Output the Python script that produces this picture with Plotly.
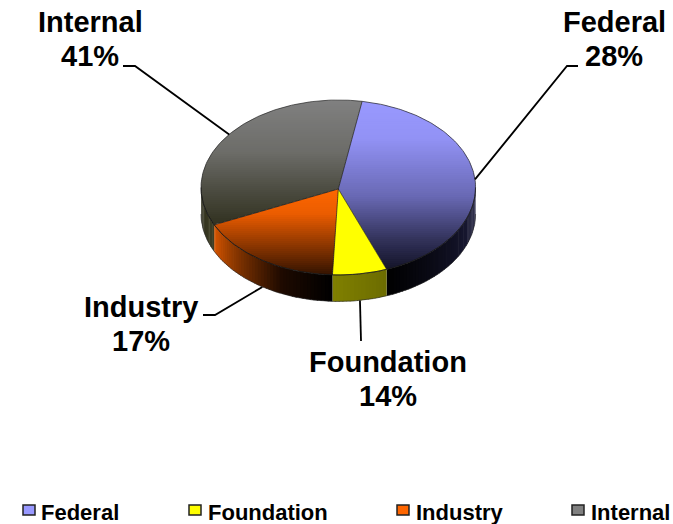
import math
import plotly.graph_objects as go

# Data
categories = ["Federal", "Foundation", "Industry", "Internal"]
drawn_share = [41.5, 6.4, 17.3, 34.8]      # share of the pie as drawn
label_percent = [28, 14, 17, 41]           # percentages as printed on the labels
legend_colors = ["#9999FF", "#FFFF00", "#FF6600", "#808080"]

# Style: gradient stops for the top face (fraction of pie height, colour) and side face
top_stops = [
    [(0.0, (153, 153, 255)), (0.22, (146, 146, 245)), (0.55, (105, 105, 180)), (0.80, (50, 50, 90)), (1.0, (14, 14, 30))],
    [(0.0, (255, 255, 0)), (1.0, (255, 255, 0))],
    [(0.5, (255, 104, 0)), (0.65, (235, 92, 0)), (0.85, (130, 50, 0)), (1.0, (50, 18, 0))],
    [(0.0, (128, 128, 128)), (0.30, (108, 108, 104)), (0.52, (75, 75, 64)), (0.72, (48, 48, 30))],
]
side_stops = [
    [(0.0, (34, 34, 70)), (0.5, (16, 16, 34)), (1.0, (0, 0, 0))],
    [(0.0, (108, 108, 0)), (1.0, (128, 128, 0))],
    [(0.0, (0, 0, 0)), (0.35, (30, 10, 0)), (0.7, (125, 50, 0)), (1.0, (215, 85, 0))],
    [(0.0, (62, 62, 36)), (1.0, (40, 40, 26))],
]
label_x = [614, 387.5, 140.5, 90]
label_name_y = [21.5, 361.5, 307, 21.5]
label_pct_y = [56, 395.5, 341, 56]
leader_elbow = [[(567, 66), (578, 66)], [(361, 341)], [(215, 315), (203, 315)], [(135, 66), (123, 66)]]
legend_swatch_x = [23, 189, 397, 572]
legend_text_x = [40, 206.5, 414.5, 589.5]

CX, CY, RX, RY, DEPTH = 338.3, 187.5, 137.3, 87.5, 26.5
START_ANGLE = 10.0
W, H = 673, 524


def pt(a, dy=0.0):
    r = math.radians(a)
    return CX + RX * math.sin(r), CY - RY * math.cos(r) + dy


def ramp(stops, t):
    if t <= stops[0][0]:
        return stops[0][1]
    for (t0, c0), (t1, c1) in zip(stops, stops[1:]):
        if t <= t1:
            f = (t - t0) / (t1 - t0)
            return tuple(c0[i] + (c1[i] - c0[i]) * f for i in range(3))
    return stops[-1][1]


def rgb(c):
    return "rgb(%d,%d,%d)" % tuple(round(v) for v in c)


def clip_y(poly, y0, y1):
    def clip(p, inside, cross):
        out = []
        for i, a in enumerate(p):
            b = p[(i + 1) % len(p)]
            if inside(a):
                out.append(a)
            if inside(a) != inside(b):
                f = (cross - a[1]) / (b[1] - a[1])
                out.append((a[0] + (b[0] - a[0]) * f, cross))
        return out
    p = clip(poly, lambda q: q[1] >= y0, y0)
    if p:
        p = clip(p, lambda q: q[1] <= y1, y1)
    return p


fig = go.Figure()


def add_poly(poly, color):
    xs = [q[0] for q in poly] + [poly[0][0]]
    ys = [q[1] for q in poly] + [poly[0][1]]
    fig.add_trace(go.Scatter(x=xs, y=ys, mode="lines", fill="toself", fillcolor=color,
                             line=dict(width=0), hoverinfo="skip", showlegend=False))


def add_line(pts, color="#000000", width=1.8):
    fig.add_trace(go.Scatter(x=[q[0] for q in pts], y=[q[1] for q in pts], mode="lines",
                             line=dict(color=color, width=width), hoverinfo="skip", showlegend=False))


# slice angle spans, clockwise from START_ANGLE
total = sum(drawn_share)
spans = []
a = START_ANGLE
for s in drawn_share:
    b = a + 360.0 * s / total
    spans.append((a, b))
    a = b

# side wall: only the front half (90..270 degrees) is visible
for i, (a0, a1) in enumerate(spans):
    v0, v1 = max(a0, 90), min(a1, 270)
    if v1 <= v0:
        continue
    n = max(2, int((v1 - v0) / 1.5))
    for k in range(n):
        t0 = v0 + (v1 - v0) * k / n
        t1 = min(v0 + (v1 - v0) * (k + 1) / n + 0.5, v1)
        f = (k + 0.5) / n
        add_poly([pt(t0), pt(t1), pt(t1, DEPTH), pt(t0, DEPTH)], rgb(ramp(side_stops[i], f)))

# top face: each slice cut into horizontal bands that carry the vertical gradient
for i, (a0, a1) in enumerate(spans):
    n = max(2, int((a1 - a0) / 2))
    sector = [(CX, CY + 1.5)] + [pt(a0 + (a1 - a0) * k / n) for k in range(n + 1)]
    ys = [q[1] for q in sector]
    y = min(ys)
    step = 2.0
    while y < max(ys):
        band = clip_y(sector, y, y + step + 0.6)
        if len(band) >= 3:
            f = (y + step / 2 - (CY - RY)) / (2 * RY)
            add_poly(band, rgb(ramp(top_stops[i], f)))
        y += step

# thin dark edges between the slices and round the pie
for a0, a1 in spans:
    add_line([pt(a0), (CX, CY + 1.5)], "rgba(20,20,20,0.65)", 1)
add_line([pt(a) for a in [START_ANGLE + k for k in range(361)]], "rgba(40,40,40,0.7)", 1)
add_line([pt(90 + k) for k in range(181)], "rgba(10,10,10,0.6)", 1)
add_line([pt(90 + k, DEPTH) for k in range(181)], "rgba(40,40,40,0.6)", 1)

# leader lines start at the middle of each slice's outer edge
for i, (a0, a1) in enumerate(spans):
    m = (a0 + a1) / 2
    start = pt(m, DEPTH if 130 < m < 250 else 0)
    add_line([start] + leader_elbow[i])

annotations = []
LABEL_FONT = dict(family="Liberation Sans", size=29, color="#000000")
for name, pct, x, y0, y1 in zip(categories, label_percent, label_x, label_name_y, label_pct_y):
    annotations.append(dict(x=x, y=y0, xref="x", yref="y", showarrow=False, xanchor="center", yanchor="middle",
                            text=f"<b>{name}</b>", font=LABEL_FONT))
    annotations.append(dict(x=x, y=y1, xref="x", yref="y", showarrow=False, xanchor="center", yanchor="middle",
                            text=f"<b>{pct}%</b>", font=LABEL_FONT))

shapes = []
for name, col, sx, tx in zip(categories, legend_colors, legend_swatch_x, legend_text_x):
    shapes.append(dict(type="rect", xref="x", yref="y", x0=sx, x1=sx + 12, y0=505, y1=515,
                       fillcolor=col, line=dict(color="#222222", width=1.5)))
    annotations.append(dict(x=tx, y=512.5, xref="x", yref="y", showarrow=False, xanchor="left", yanchor="middle",
                            xshift=-1, text=f"<b>{name}</b>",
                            font=dict(family="Liberation Sans", size=22, color="#000000")))

fig.update_layout(
    width=W, height=H, autosize=False, margin=dict(l=0, r=0, t=0, b=0),
    paper_bgcolor="#FFFFFF", plot_bgcolor="#FFFFFF", showlegend=False,
    xaxis=dict(range=[0, W], visible=False, fixedrange=True),
    yaxis=dict(range=[H, 0], visible=False, fixedrange=True),
    shapes=shapes, annotations=annotations,
)
fig.write_html("out.html", config={"displayModeBar": False, "responsive": False},
               post_script="document.body.style.margin='0';document.documentElement.style.overflow='hidden';")
